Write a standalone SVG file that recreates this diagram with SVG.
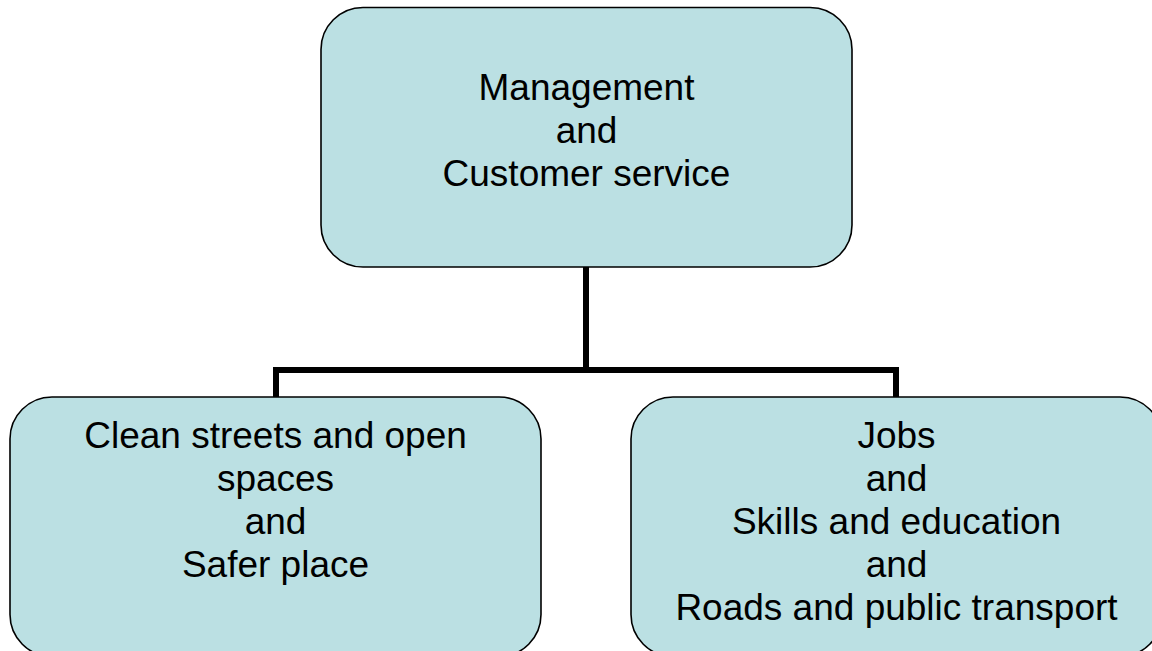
<svg xmlns="http://www.w3.org/2000/svg" width="1152" height="651" viewBox="0 0 1152 651">
<style>
.box{fill:#BBE0E3;stroke:#000;stroke-width:1.6}
.lbl{font-family:"Liberation Sans",Arial,sans-serif;font-size:37px;fill:#000;text-anchor:middle}
.conn{fill:none;stroke:#000;stroke-width:6}
</style>
<rect width="1152" height="651" fill="#fff"/>
<g id="connectors">
<path class="conn" d="M586,267 V370"/>
<path class="conn" d="M276,397 V370 H896 V397"/>
</g>
<g id="top">
<rect class="box" x="321" y="7.5" width="531" height="259.5" rx="42" ry="42"/>
<text class="lbl"><tspan x="586.5" y="100">Management</tspan><tspan x="586.5" y="143">and</tspan><tspan x="586.5" y="186">Customer service</tspan></text>
</g>
<g id="left">
<rect class="box" x="10" y="397" width="531" height="259.5" rx="42" ry="42"/>
<text class="lbl"><tspan x="275.5" y="448">Clean streets and open</tspan><tspan x="275.5" y="491">spaces</tspan><tspan x="275.5" y="534">and</tspan><tspan x="275.5" y="577">Safer place</tspan></text>
</g>
<g id="right">
<rect class="box" x="631" y="397" width="531" height="259.5" rx="42" ry="42"/>
<text class="lbl"><tspan x="896.5" y="448">Jobs</tspan><tspan x="896.5" y="491">and</tspan><tspan x="896.5" y="534">Skills and education</tspan><tspan x="896.5" y="577">and</tspan><tspan x="896.5" y="620">Roads and public transport</tspan></text>
</g>
</svg>
